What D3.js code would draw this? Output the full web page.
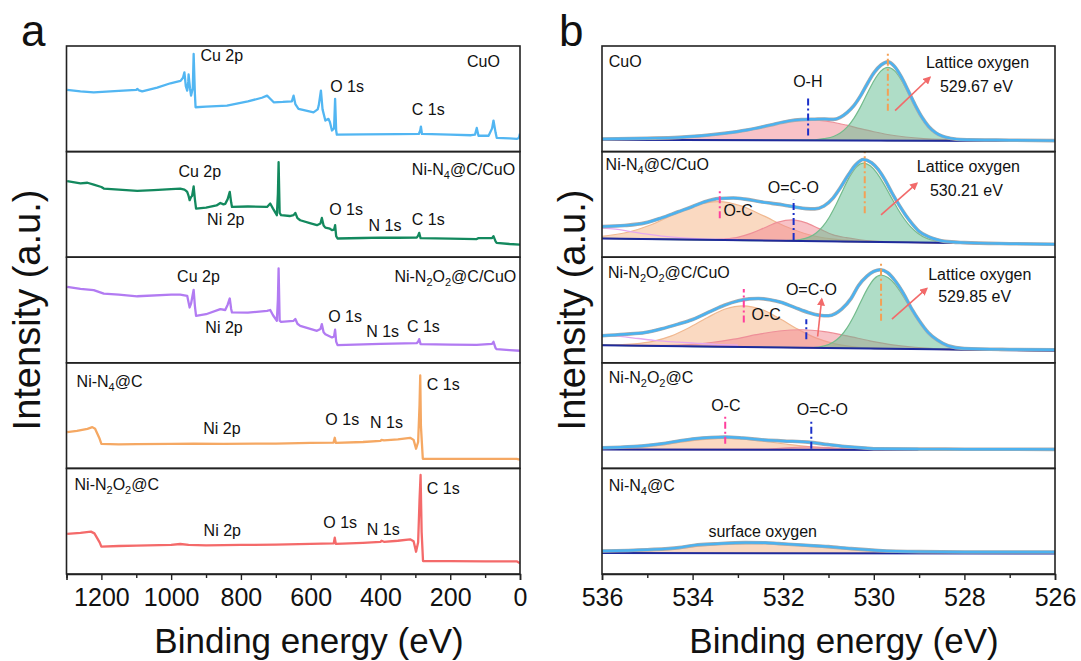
<!DOCTYPE html>
<html>
<head>
<meta charset="utf-8">
<script src="https://cdn.jsdelivr.net/npm/d3@7"></script>
<style>
  body { margin: 0; background: #fff; }
  text { font-family: "Liberation Sans", Arial, sans-serif; fill: #111; }
</style>
</head>
<body>
<svg id="chart" width="1081" height="661"></svg>
<script>
// ---------- panel a : survey spectra, [binding energy (eV), intensity 0-100 inside its box] ----------
const cuoSurvey = [[1298,58.4],[1260,57],[1222,56],[1150,57.5],[1100,58.5],[1097,59.3],[1092,58],[1083,57],[1040,60.5],[1002,64.7],[985,66],[973,67],[966,70],[962,75],[958,62],[954,57.8],[951,66],[950,73],[946,60],[943,53],[938,60],[935.5,92.5],[932,55],[930,42],[900,42.5],[840,43.6],[780,47.5],[740,51],[725,53],[716,50],[706,46.7],[680,47],[654,47.5],[649,53],[644,45],[635,40.4],[610,38.5],[592,37.2],[580,40],[577,43.6],[570.7,57.8],[566,40],[558,29.4],[549,31],[545,28],[539,20],[533,22],[530,50],[527,20],[525,16],[450,16.3],[350,16.5],[290,16.7],[286,20],[284,23.7],[281,16.7],[200,16],[140,15.5],[129,16],[124,22.4],[119,15],[90,15],[80,22],[76,29.4],[70,18],[66.7,13],[30,12.5],[9.5,12],[3,13],[0,17]];
const n4cuoSurvey = [[1298,72],[1260,70],[1240,70.5],[1222,68.8],[1200,66.5],[1193,65],[1150,64],[1097,62.8],[1050,63.5],[1000,64.5],[974,65],[962,64],[958,63],[954,61.8],[950,58],[947,54],[943,57],[940,58],[935.5,67],[932,55],[928.6,46],[900,47],[870,49],[859,51.4],[850,50],[845,50.5],[838,55],[832,61.8],[828,52],[825.6,47.6],[780,48],[725,47.6],[716,50.8],[708,46],[697,39.8],[694,60],[692,90],[689,42],[685,39.8],[660,39],[649,39.8],[644,42],[638,37],[630,35],[600,32],[582,30.3],[572,32],[568,37.2],[563,30],[558,28],[545,27],[539,25.6],[533,26],[530,30.3],[527,20],[523,17.7],[450,18.2],[400,18.5],[350,18.4],[296,18.6],[292,20.5],[289,23],[285,18],[200,17.5],[124,17.2],[120,18],[80,18],[76,19.9],[70,15],[67,13.6],[30,12.5],[0,12]];
const n2o2cuoSurvey = [[1298,72],[1260,70],[1222,68.8],[1193,65.5],[1150,64.5],[1097,63],[1000,64.5],[974,64.5],[954,63.4],[950,57],[947,52.4],[943,56],[935.5,69.1],[932,54],[928.6,44.5],[900,46],[859,50.8],[845,50],[838,55],[832,60.9],[828,51],[825.6,47.7],[780,47.5],[725,49.2],[716,50],[708,45],[697,39.8],[694,60],[692,89.3],[689,40],[685,38.8],[649,39.8],[644,41.5],[638,37],[630,35],[582,30.3],[572,32],[568,36.6],[563,29],[558,27.1],[539,24],[533,25],[530,31.3],[527,20],[523,16.7],[400,18],[296,18.6],[292,20],[289,22.4],[285,17.7],[200,17.2],[124,17],[80,18],[76,19.9],[70,14],[67,12.9],[30,12],[0,11.4]];
const n4cSurvey = [[1298,34.4],[1270,35.5],[1240,37.5],[1226,39.1],[1218,37.5],[1205,28],[1200,23.3],[1150,22.8],[1100,22.9],[1000,23.2],[935,23.5],[850,23.2],[700,23.5],[600,24.1],[534.5,24.5],[531,29],[528,24.2],[450,25],[400,26],[397,27],[390,26.5],[350,27.5],[315,29],[305,27],[298,18.6],[292,25],[288,60],[286,88],[284,40],[278.6,9.1],[200,9],[100,9],[9.5,9.1],[0,8.2]];
const n2o2cSurvey = [[1298,37.9],[1260,39],[1230,40.1],[1220,38.5],[1205,30],[1200,25.9],[1150,26.5],[1100,26.8],[1000,27.5],[974,28.4],[950,27.5],[900,27.2],[800,27.5],[700,27.8],[600,28.6],[534,29],[531,34.4],[528,28.5],[450,29.5],[400,30.4],[397,31.5],[390,30.5],[350,31.5],[315,32.8],[305,31],[298,21.1],[292,30],[288,70],[285,93.8],[282,40],[278,12.3],[200,12.2],[100,12],[9.5,12],[0,10.1]];

const surveyTicks = [1200, 1000, 800, 600, 400, 200, 0];
const surveyMinor = [1300, 1100, 900, 700, 500, 300, 100];

// [box, text, eV, intensity]
const surveyLabels = [
  [0,"Cu 2p",916,86.2],[0,"O 1s",544,56.7],[0,"C 1s",310,34.7],[0,"CuO",152,80.4],
  [1,"Cu 2p",979,76.2],[1,"Ni 2p",897,30.5],[1,"O 1s",547,40],[1,"N 1s",434,25.1],[1,"C 1s",310,30.5],[1,"Ni-N_4@C/CuO",310,77.8],
  [2,"Cu 2p",983,76.8],[2,"Ni 2p",902,27.9],[2,"O 1s",550,38.9],[2,"N 1s",441,24.7],[2,"C 1s",324,29.5],[2,"Ni-N_2O_2@C/CuO",360,76.8],
  [3,"Ni-N_4@C",1271,77.4],[3,"Ni 2p",908,32.6],[3,"O 1s",558,41.1],[3,"N 1s",430,38],[3,"C 1s",267,74.2],
  [4,"Ni-N_2O_2@C",1277,79.5],[4,"Ni 2p",907,36],[4,"O 1s",564,43.3],[4,"N 1s",439,36.9],[4,"C 1s",267,75.8]
];

// ---------- panel b : O 1s spectra ----------
const o1sTicks = [536, 534, 532, 530, 528, 526];
const o1sMinor = [535, 533, 531, 529, 527];

// CuO
const cuoBase = [11.3, 10.0];
const cuoEnv = [[536,12.0],[535,12.6],[534.3,13.5],[533.8,15],[533.3,17.3],[532.8,20.5],[532.3,25],[531.9,28.8],[531.6,30.3],[531.3,30.7],[531.09,30.9],[530.89,30.5],[530.74,32.5],[530.59,37],[530.44,43.5],[530.29,53],[530.14,64.5],[529.99,75],[529.84,82],[529.69,85],[529.54,80.5],[529.39,70.5],[529.24,57.5],[529.09,44.3],[528.94,32.7],[528.79,23.8],[528.64,18],[528.49,14.6],[528.29,12.5],[528.09,11.4],[527,10.8],[526,10.4]];
const cuoOH = [[536,11.3],[535,12.1],[534.3,13],[533.8,14.5],[533.3,16.8],[532.8,20],[532.3,24.5],[531.9,28.3],[531.6,29.8],[531.45,30],[531.2,29.5],[530.9,27.8],[530.6,25],[530.3,21.8],[530,18.8],[529.7,16.2],[529.3,13.8],[528.9,12.3],[528.4,11.4],[527.5,10.6],[526,10.0]];
const cuoLattice = [[536,11.3],[531.3,11.2],[531.09,12.3],[530.89,14.3],[530.74,17.6],[530.59,23.1],[530.44,31.5],[530.29,42.6],[530.14,55.4],[529.99,67.6],[529.84,76.4],[529.69,79.8],[529.54,76.4],[529.39,67.6],[529.24,55.4],[529.09,42.6],[528.94,31.5],[528.79,23.1],[528.64,17.6],[528.49,14.3],[528.29,12.3],[528.09,11.3],[526,10.0]];

// Ni-N4@C/CuO
const n4cuoBase = [17.8, 12.2];
const n4cuoEnv = [[536,29],[535.5,30],[535.05,32.5],[534.7,37],[534.32,43],[534,48],[533.73,52.5],[533.43,55.5],[533.1,56],[532.84,55],[532.5,52.5],[532.25,51],[532,49.5],[531.74,47.5],[531.5,46],[531.3,45.8],[531.1,48.5],[530.9,56],[530.75,65],[530.56,78],[530.4,87.5],[530.23,92.5],[530.05,89.5],[529.9,83],[529.75,73],[529.6,61],[529.45,50],[529.3,40],[529.16,32],[529,24.5],[528.8,19.5],[528.6,16.5],[528.43,15],[528,13.8],[527,12.8],[526,12.3]];
const n4cuoOC = [[536,19.7],[535.43,23.6],[534.93,30.5],[534.43,40.2],[533.93,49.2],[533.43,52.7],[532.93,48.6],[532.43,39.1],[531.93,28.8],[531.43,21.3],[530.93,17.3],[530.43,15.4],[529.5,14.3],[526,12.2]];
const n4cuoOCO = [[536,17.8],[533.5,16.6],[533.31,17.2],[533.01,18.8],[532.71,22.5],[532.41,27.9],[532.11,33.2],[531.81,35.3],[531.51,32.8],[531.21,27.1],[530.91,21.4],[530.61,18.5],[530.31,16.5],[530,15.2],[529.5,14.2],[526,12.2]];
const n4cuoLattice = [[536,17.8],[532,15.6],[531.83,15.9],[531.63,16.7],[531.43,19],[531.28,22.7],[531.13,28.9],[530.98,38.1],[530.83,50.1],[530.68,63.7],[530.53,76.5],[530.38,85.7],[530.23,89],[530.08,86.5],[529.93,79.6],[529.78,69.4],[529.63,57.8],[529.48,46.4],[529.33,36.4],[529.18,28.4],[529.03,22.7],[528.83,17.8],[528.63,15.4],[528.33,14],[527.5,13.3],[526,12.2]];
const n4cuoH2O = [[536,27.5],[535.7,26.5],[535.4,24.5],[535.05,22],[534.68,20],[534.3,18.5],[533.8,17.3],[533,16.8]];

// Ni-N2O2@C/CuO
const n2o2cuoBase = [16.7, 11.4];
const n2o2cuoEnv = [[536,25.6],[535.5,27],[535.05,28.7],[534.7,32],[534.32,36.6],[534,41],[533.58,49.2],[533.3,54.5],[532.99,58.7],[532.75,60.5],[532.55,60.9],[532.3,59.8],[532.03,57.1],[531.75,52.5],[531.45,47.7],[531.2,45],[531,44.5],[530.85,46.5],[530.71,50.8],[530.5,61],[530.34,72.9],[530.15,82],[530,86.5],[529.86,88.1],[529.7,85.5],[529.53,77.7],[529.35,66],[529.16,50.8],[529,40],[528.8,28.7],[528.6,21.5],[528.36,16.1],[528,13.5],[527,12.6],[526,12.3]];
const n2o2cuoOC = [[536,16.8],[535.68,17],[535.28,17.9],[534.88,20.3],[534.48,25.3],[534.08,33.2],[533.68,42.7],[533.28,50.9],[532.88,54],[532.48,50.5],[532.08,41.9],[531.68,31.9],[531.28,23.6],[530.88,18.2],[530.48,15.4],[530.08,14.1],[526,11.4]];
const n2o2cuoOCO = [[536,16.7],[535.59,16.5],[534.59,16.6],[534.09,17.3],[533.59,19.2],[533.09,22.4],[532.59,26.6],[532.09,30.1],[531.59,31.3],[531.09,29.5],[530.59,25.5],[530.09,20.8],[529.59,17],[529.09,14.6],[528.59,13.3],[526,11.4]];
const n2o2cuoLattice = [[536,16.7],[531.6,14.5],[531.34,14.5],[531.09,16],[530.89,19.6],[530.74,24.9],[530.59,33.1],[530.44,44.3],[530.29,57.5],[530.14,70.2],[529.99,79.6],[529.84,83],[529.69,80.7],[529.54,74.7],[529.39,65.7],[529.24,55.3],[529.09,44.9],[528.94,35.6],[528.79,27.9],[528.59,20.6],[528.34,15.7],[528.04,13.2],[527.74,12.4],[526,11.4]];
const n2o2cuoH2O = [[536,26.2],[535.6,25],[535.2,23],[534.8,21],[534.3,19.5],[533.95,18.6],[533.5,17.5],[533,16.8]];

// Ni-N2O2@C
const n2o2cBase = [17.9, 17.4];
const n2o2cEnv = [[536,19.6],[535.3,20.8],[534.68,23.4],[534.3,26],[533.95,28.1],[533.6,29.3],[533.28,29.7],[532.9,28.8],[532.48,27.1],[532,26],[531.45,24.9],[531,22.5],[530.64,20.8],[530.2,19.3],[529.9,18.6],[529,18.3],[528,18.2],[526,18]];
const n2o2cOC = [[536,18.2],[535.3,19.3],[534.7,22],[534.3,24.5],[533.9,26.8],[533.35,28.5],[532.9,27.6],[532.4,25.5],[531.9,22.8],[531.4,20.5],[530.9,19],[530.4,18.2],[529.5,17.8],[526,17.4]];
const n2o2cOCO = [[536,17.9],[532.5,18.2],[532,19.2],[531.45,20.5],[531,19.6],[530.5,18.4],[530,17.9],[526,17.4]];

// Ni-N4@C
const n4cBase = [19.8, 19.5];
const n4cEnv = [[536,21.8],[535,23],[534.3,25],[533.95,27.3],[533.5,28.5],[532.84,29.7],[532.4,29.6],[532.1,28.8],[531.5,27.2],[531,25.9],[530.5,24],[529.9,22.3],[529,21.2],[528,20.9],[526,20.8]];
const n4cSurface = [[536,20.5],[535,21.8],[534.3,24],[533.8,26.5],[533.2,28.2],[532.7,28.8],[532.2,28.2],[531.6,26.6],[531,24.8],[530.4,22.8],[529.8,21.2],[529,20.3],[528,19.8],[526,19.5]];

// reference lines [box, eV, from, to]
const ohDash = [[0,531.45,15.2,53]];
const ocDash = [[1,533.4,37,65.3],[2,532.87,38.2,69.8],[3,533.28,23.4,50.2]];
const ocoDash = [[1,531.77,16.4,54.3],[2,531.49,22.4,41.3],[3,531.38,18.6,45.5]];
const latticeDash = [[0,529.69,38.8,95.6],[1,530.2,41.7,100],[2,529.84,39.8,96.6]];

// arrows [box, eV0, v0, eV1, v1]
const arrows = [[0,529.53,38.8,528.76,70.4],[1,529.84,40,529.05,70],[2,531.24,24.9,531.15,60.3],[2,529.6,41.4,528.83,70.4]];

const o1sLabels = [
  [0,"CuO",535.85,80.4],[0,"O-H",531.78,61.5],[0,"Lattice oxygen",528.85,78.9],[0,"529.67 eV",528.54,56.7],
  [1,"Ni-N_4@C/CuO",535.92,82.9],[1,"O=C-O",532.34,60.8],[1,"O-C",533.32,38.7],[1,"Lattice oxygen",529.05,80.7],[1,"530.21 eV",528.76,58.2],
  [2,"Ni-N_2O_2@C/CuO",535.87,80],[2,"O=C-O",531.94,64.2],[2,"O-C",532.7,40.5],[2,"Lattice oxygen",528.8,78.4],[2,"529.85 eV",528.58,57.9],
  [3,"Ni-N_2O_2@C",535.85,80.6],[3,"O-C",533.59,54.6],[3,"O=C-O",531.7,50.6],
  [4,"Ni-N_4@C",535.85,78.9],[4,"surface oxygen",533.65,35.3]
];

// ---------- drawing ----------
const svg = d3.select("#chart");
const boxTop = 46, boxH = 105.6, nBox = 5;
const yBox = i => d3.scaleLinear().domain([0, 100]).range([boxTop + (i + 1) * boxH, boxTop + i * boxH]);
const xa = d3.scaleLinear().domain([1300, 0]).range([66.5, 520]);
const xb = d3.scaleLinear().domain([536, 526]).range([602, 1055]);

const fills = { peach: "#f5b483", pink: "#f2858f", green: "#5fbb8f" };
const strokes = { peach: "#f0b890", pink: "#ee8f98", green: "#73bb8c", violet: "#e6a8ee" };

function rich(t, str) {
  const parts = str.split(/_(\d)/);
  let down = false;
  parts.forEach((p, i) => {
    if (p === "") return;
    const ts = t.append("tspan").text(p);
    if (i % 2 === 1) { ts.attr("dy", 4).attr("font-size", "11px"); down = true; }
    else if (down) { ts.attr("dy", -4); down = false; }
  });
}

const defs = svg.append("defs");
defs.append("marker").attr("id", "arr").attr("viewBox", "0 0 10 10").attr("refX", 8).attr("refY", 5)
  .attr("markerWidth", 5).attr("markerHeight", 5).attr("orient", "auto")
  .append("path").attr("d", "M0,0L10,5L0,10z").attr("fill", "#f26a6a");

function clipFor(id, x0, x1, i) {
  defs.append("clipPath").attr("id", id).append("rect")
    .attr("x", x0).attr("y", boxTop + i * boxH).attr("width", x1 - x0).attr("height", boxH);
}

function bottomAxis(x, majors, minors) {
  const g = svg.append("g").attr("transform", `translate(0,${boxTop + nBox * boxH})`);
  g.call(d3.axisBottom(x).tickValues(majors).tickSize(6).tickPadding(8).tickFormat(d3.format("d")));
  g.select(".domain").attr("stroke", "#222").attr("stroke-width", 1.6);
  g.selectAll(".tick line").attr("stroke", "#222").attr("stroke-width", 1.4);
  g.selectAll("text").attr("font-size", "25px").attr("fill", "#111")
    .attr("font-family", "'Liberation Sans', Arial, sans-serif");
  const m = svg.append("g").attr("transform", `translate(0,${boxTop + nBox * boxH})`);
  m.call(d3.axisBottom(x).tickValues(minors).tickSize(4).tickFormat(""));
  m.select(".domain").remove();
  m.selectAll(".tick line").attr("stroke", "#222").attr("stroke-width", 1.4);
}

// panel a
const surveys = [cuoSurvey, n4cuoSurvey, n2o2cuoSurvey, n4cSurvey, n2o2cSurvey];
const surveyColors = ["#52b6f2", "#13895e", "#b27bf2", "#f5a863", "#f46a6a"];
surveys.forEach((s, i) => {
  const y = yBox(i);
  clipFor("ca" + i, xa.range()[0], xa.range()[1], i);
  svg.append("path").datum(s)
    .attr("clip-path", `url(#ca${i})`)
    .attr("fill", "none").attr("stroke", surveyColors[i]).attr("stroke-width", 2.3)
    .attr("stroke-linejoin", "round")
    .attr("d", d3.line().x(d => xa(d[0])).y(d => y(d[1])));
});
surveyLabels.forEach(([i, str, e, v]) => {
  const t = svg.append("text").attr("x", xa(e)).attr("y", yBox(i)(v)).attr("font-size", "16px");
  rich(t, str);
});

// panel b
const xps = [
  { base: cuoBase, env: cuoEnv, comps: [["pink", cuoOH], ["green", cuoLattice]], extra: null },
  { base: n4cuoBase, env: n4cuoEnv, comps: [["peach", n4cuoOC], ["pink", n4cuoOCO], ["green", n4cuoLattice]], extra: n4cuoH2O },
  { base: n2o2cuoBase, env: n2o2cuoEnv, comps: [["peach", n2o2cuoOC], ["pink", n2o2cuoOCO], ["green", n2o2cuoLattice]], extra: n2o2cuoH2O },
  { base: n2o2cBase, env: n2o2cEnv, comps: [["peach", n2o2cOC], ["pink", n2o2cOCO]], extra: null },
  { base: n4cBase, env: n4cEnv, comps: [["peach", n4cSurface]], extra: null }
];
xps.forEach((b, i) => {
  const y = yBox(i);
  const bl = d3.scaleLinear().domain([536, 526]).range(b.base);
  clipFor("cb" + i, xb.range()[0], xb.range()[1], i);
  const g = svg.append("g").attr("clip-path", `url(#cb${i})`);
  b.comps.forEach(([kind, pts]) => {
    g.append("path").datum(pts)
      .attr("fill", fills[kind]).attr("fill-opacity", 0.5)
      .attr("stroke", strokes[kind]).attr("stroke-width", 1.2)
      .attr("d", d3.area().curve(d3.curveMonotoneX)
        .x(d => xb(d[0])).y0(d => y(bl(d[0]))).y1(d => y(d[1])));
  });
  if (b.extra) {
    g.append("path").datum(b.extra).attr("fill", "none").attr("stroke", strokes.violet).attr("stroke-width", 1.3)
      .attr("d", d3.line().curve(d3.curveMonotoneX).x(d => xb(d[0])).y(d => y(d[1])));
  }
  g.append("path").datum([536, 526]).attr("fill", "none").attr("stroke", "#1f2a9c").attr("stroke-width", 2)
    .attr("d", d3.line().x(d => xb(d)).y(d => y(bl(d))));
  const envLine = d3.line().curve(d3.curveMonotoneX).x(d => xb(d[0])).y(d => y(d[1]));
  g.append("path").datum(b.env).attr("fill", "none").attr("stroke", "#ababab").attr("stroke-width", 3.6).attr("d", envLine);
  g.append("path").datum(b.env).attr("fill", "none").attr("stroke", "#4cb2f0").attr("stroke-width", 2.4).attr("d", envLine);
});

function dashes(list, color) {
  list.forEach(([i, e, v0, v1]) => {
    const y = yBox(i);
    svg.append("line").attr("x1", xb(e)).attr("x2", xb(e)).attr("y1", y(v0)).attr("y2", y(v1))
      .attr("stroke", color).attr("stroke-width", 2).attr("stroke-dasharray", "7,3,2,3");
  });
}
dashes(ohDash, "#1a2fc8");
dashes(ocDash, "#ff3f9d");
dashes(ocoDash, "#1a2fc8");
dashes(latticeDash, "#f4a055");

arrows.forEach(([i, e0, v0, e1, v1]) => {
  const y = yBox(i);
  svg.append("line").attr("x1", xb(e0)).attr("y1", y(v0)).attr("x2", xb(e1)).attr("y2", y(v1))
    .attr("stroke", "#f26a6a").attr("stroke-width", 1.6).attr("marker-end", "url(#arr)");
});

o1sLabels.forEach(([i, str, e, v]) => {
  const t = svg.append("text").attr("x", xb(e)).attr("y", yBox(i)(v)).attr("font-size", "16px");
  rich(t, str);
});

// frames
[xa, xb].forEach(x => {
  d3.range(nBox).forEach(i => {
    svg.append("rect").attr("x", x.range()[0]).attr("y", boxTop + i * boxH)
      .attr("width", x.range()[1] - x.range()[0]).attr("height", boxH)
      .attr("fill", "none").attr("stroke", "#222").attr("stroke-width", 1.6);
  });
});

bottomAxis(xa, surveyTicks, surveyMinor);
bottomAxis(xb, o1sTicks, o1sMinor);

// titles
svg.append("text").attr("x", 309).attr("y", 653).attr("text-anchor", "middle").attr("font-size", "35px").text("Binding energy (eV)");
svg.append("text").attr("x", 844).attr("y", 653).attr("text-anchor", "middle").attr("font-size", "35px").text("Binding energy (eV)");
svg.append("text").attr("transform", "translate(40,310) rotate(-90)").attr("text-anchor", "middle").attr("font-size", "38px").text("Intensity (a.u.)");
svg.append("text").attr("transform", "translate(585,310) rotate(-90)").attr("text-anchor", "middle").attr("font-size", "38px").text("Intensity (a.u.)");
svg.append("text").attr("x", 21).attr("y", 46).attr("font-size", "44px").text("a");
svg.append("text").attr("x", 559).attr("y", 46).attr("font-size", "44px").text("b");
</script>
</body>
</html>
